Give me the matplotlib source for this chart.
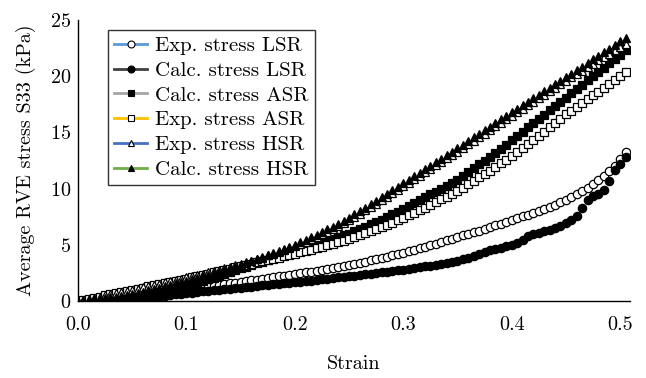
import numpy as np
import matplotlib
matplotlib.use("Agg")
import matplotlib.pyplot as plt
from matplotlib.lines import Line2D

plt.rcParams['font.family'] = ['cmr10', 'DejaVu Serif']
plt.rcParams['axes.formatter.use_mathtext'] = True
plt.rcParams['font.size'] = 14.5

# strain sampling shared by every series (0 .. 0.505)
strain = np.linspace(0, 0.505, 102)

exp_lsr = [0, 0.0, 0.01, 0.02, 0.04, 0.07, 0.1, 0.14, 0.19, 0.24,
           0.3, 0.37, 0.44, 0.51, 0.58, 0.65, 0.72, 0.79, 0.86, 0.93,
           1.0, 1.07, 1.14, 1.21, 1.28, 1.35, 1.42, 1.49, 1.56, 1.63,
           1.7, 1.77, 1.84, 1.91, 1.98, 2.05, 2.12, 2.19, 2.26, 2.33,
           2.4, 2.47, 2.54, 2.62, 2.7, 2.78, 2.86, 2.94, 3.03, 3.11,
           3.2, 3.3, 3.4, 3.51, 3.62, 3.73, 3.84, 3.95, 4.07, 4.19,
           4.3, 4.43, 4.56, 4.69, 4.83, 4.97, 5.11, 5.25, 5.4, 5.55,
           5.7, 5.84, 5.98, 6.12, 6.27, 6.42, 6.57, 6.72, 6.88, 7.04,
           7.2, 7.36, 7.52, 7.68, 7.85, 8.02, 8.2, 8.39, 8.58, 8.79,
           9.0, 9.23, 9.48, 9.75, 10.05, 10.38, 10.74, 11.13, 11.54, 12.0,
           12.6, 13.3]

calc_lsr = [0, 0, 0, 0, 0, 0.01, 0.02, 0.03, 0.05, 0.07,
            0.1, 0.14, 0.19, 0.25, 0.31, 0.38, 0.45, 0.52, 0.58, 0.64,
            0.7, 0.75, 0.8, 0.85, 0.9, 0.95, 1.0, 1.05, 1.1, 1.15,
            1.2, 1.24, 1.29, 1.33, 1.38, 1.42, 1.47, 1.51, 1.56, 1.6,
            1.65, 1.71, 1.77, 1.82, 1.88, 1.94, 1.99, 2.05, 2.1, 2.15,
            2.2, 2.26, 2.31, 2.37, 2.43, 2.49, 2.55, 2.62, 2.68, 2.74,
            2.8, 2.86, 2.95, 3.0, 3.08, 3.15, 3.22, 3.33, 3.42, 3.5,
            3.6, 3.72, 3.85, 4.0, 4.18, 4.35, 4.5, 4.62, 4.75, 4.88,
            5.0, 5.2, 5.45, 5.75, 5.95, 6.05, 6.2, 6.35, 6.5, 6.65,
            6.9, 7.2, 7.6, 8.3, 9.0, 9.3, 9.5, 9.9, 10.7, 11.7,
            12.2, 12.8]

calc_asr = [0, 0.01, 0.02, 0.04, 0.07, 0.1, 0.14, 0.19, 0.24, 0.29,
            0.35, 0.43, 0.51, 0.6, 0.69, 0.79, 0.89, 0.99, 1.09, 1.19,
            1.3, 1.45, 1.61, 1.77, 1.93, 2.09, 2.25, 2.42, 2.58, 2.74,
            2.9, 3.05, 3.2, 3.35, 3.5, 3.65, 3.8, 3.95, 4.1, 4.25,
            4.4, 4.55, 4.7, 4.86, 5.02, 5.18, 5.34, 5.5, 5.67, 5.83,
            6.0, 6.2, 6.4, 6.61, 6.82, 7.03, 7.25, 7.48, 7.71, 7.95,
            8.2, 8.45, 8.7, 8.96, 9.22, 9.48, 9.74, 10.0, 10.27, 10.54,
            10.8, 11.14, 11.48, 11.82, 12.16, 12.5, 12.84, 13.19, 13.55, 13.92,
            14.3, 14.68, 15.06, 15.44, 15.82, 16.2, 16.58, 16.96, 17.34, 17.72,
            18.1, 18.48, 18.86, 19.24, 19.62, 20.0, 20.38, 20.76, 21.14, 21.52,
            21.9, 22.3]

exp_asr = [0, 0.1, 0.2, 0.3, 0.4, 0.5, 0.6, 0.7, 0.8, 0.9,
           1.0, 1.1, 1.2, 1.3, 1.4, 1.5, 1.6, 1.7, 1.8, 1.9,
           2.0, 2.11, 2.22, 2.33, 2.44, 2.55, 2.66, 2.77, 2.88, 2.99,
           3.1, 3.21, 3.32, 3.43, 3.54, 3.65, 3.76, 3.87, 3.98, 4.09,
           4.2, 4.32, 4.44, 4.57, 4.7, 4.83, 4.96, 5.09, 5.22, 5.36,
           5.5, 5.67, 5.84, 6.02, 6.2, 6.38, 6.57, 6.77, 6.97, 7.18,
           7.4, 7.62, 7.85, 8.08, 8.31, 8.55, 8.79, 9.04, 9.29, 9.54,
           9.8, 10.09, 10.39, 10.69, 10.99, 11.29, 11.6, 11.92, 12.24, 12.57,
           12.9, 13.25, 13.61, 13.97, 14.34, 14.71, 15.08, 15.46, 15.84, 16.22,
           16.6, 16.94, 17.28, 17.62, 17.96, 18.3, 18.64, 18.98, 19.32, 19.66,
           20.0, 20.4]

exp_hsr = [0, 0.1, 0.2, 0.3, 0.4, 0.5, 0.6, 0.7, 0.8, 0.9,
           1.0, 1.11, 1.22, 1.33, 1.44, 1.55, 1.66, 1.77, 1.88, 1.99,
           2.1, 2.21, 2.33, 2.44, 2.56, 2.68, 2.8, 2.92, 3.04, 3.17,
           3.3, 3.44, 3.59, 3.74, 3.9, 4.06, 4.22, 4.39, 4.56, 4.73,
           4.9, 5.09, 5.29, 5.5, 5.72, 5.94, 6.17, 6.41, 6.66, 6.93,
           7.2, 7.48, 7.77, 8.06, 8.36, 8.66, 8.96, 9.27, 9.58, 9.89,
           10.2, 10.51, 10.82, 11.13, 11.44, 11.75, 12.06, 12.37, 12.68, 12.99,
           13.3, 13.62, 13.94, 14.26, 14.58, 14.9, 15.22, 15.54, 15.86, 16.18,
           16.5, 16.81, 17.12, 17.43, 17.74, 18.05, 18.36, 18.67, 18.98, 19.29,
           19.6, 19.9, 20.2, 20.5, 20.8, 21.1, 21.4, 21.7, 22.0, 22.3,
           22.6, 22.9]

calc_hsr = [0, 0.05, 0.1, 0.15, 0.2, 0.26, 0.33, 0.4, 0.47, 0.53,
            0.6, 0.71, 0.82, 0.94, 1.06, 1.18, 1.31, 1.44, 1.57, 1.69,
            1.8, 1.93, 2.06, 2.2, 2.34, 2.48, 2.62, 2.76, 2.91, 3.05,
            3.2, 3.36, 3.53, 3.7, 3.87, 4.05, 4.23, 4.42, 4.61, 4.8,
            5.0, 5.21, 5.43, 5.66, 5.89, 6.13, 6.37, 6.62, 6.87, 7.13,
            7.4, 7.7, 8.0, 8.31, 8.62, 8.93, 9.24, 9.56, 9.87, 10.18,
            10.5, 10.81, 11.12, 11.43, 11.74, 12.05, 12.36, 12.67, 12.98, 13.29,
            13.6, 13.92, 14.24, 14.56, 14.88, 15.2, 15.52, 15.84, 16.16, 16.48,
            16.8, 17.11, 17.42, 17.73, 18.04, 18.35, 18.66, 18.97, 19.28, 19.59,
            19.9, 20.22, 20.54, 20.86, 21.18, 21.5, 21.82, 22.14, 22.46, 22.78,
            23.1, 23.4]

labels = ["Exp. stress LSR", "Calc. stress LSR", "Calc. stress ASR",
          "Exp. stress ASR", "Exp. stress HSR", "Calc. stress HSR"]
series = [exp_lsr, calc_lsr, calc_asr, exp_asr, exp_hsr, calc_hsr]
line_colors = ["#5B9BD5", "#404040", "#A5A5A5", "#FFC000", "#4472C4", "#70AD47"]
markers = ["o", "o", "s", "s", "^", "^"]
faces = ["white", "black", "black", "white", "white", "black"]

fig = plt.figure(figsize=(6.46, 3.78), dpi=100)
ax = fig.add_axes([0.1207, 0.2037, 0.8543, 0.7433])

handles = []
for y, lab, lc, m, fc in zip(series, labels, line_colors, markers, faces):
    ax.plot(strain, y, ls='none', marker=m, ms=6, mfc=fc, mec='black', mew=0.9)
    handles.append(Line2D([], [], color=lc, lw=2, marker=m, ms=5,
                          mfc=fc, mec='black', mew=0.8))

ax.set_xlim(0, 0.509)
ax.set_ylim(0, 25)
ax.set_xticks([0.0, 0.1, 0.2, 0.3, 0.4, 0.5])
ax.set_xticklabels(["0.0", "0.1", "0.2", "0.3", "0.4", "0.5"])
ax.set_yticks([0, 5, 10, 15, 20, 25])
ax.tick_params(length=0)
ax.tick_params(axis='x', pad=11)
ax.tick_params(axis='y', pad=5)
for s in ['top', 'right']:
    ax.spines[s].set_visible(False)
for s in ['left', 'bottom']:
    ax.spines[s].set_linewidth(1.0)

ax.set_xlabel("Strain", labelpad=15)
ax.set_ylabel("Average RVE stress S33 (kPa)", labelpad=10)

leg = ax.legend(handles, labels, loc='upper left', bbox_to_anchor=(0.054, 0.964),
                borderaxespad=0, fancybox=False, edgecolor='black',
                handlelength=1.6, handletextpad=0.35, labelspacing=0.3,
                borderpad=0.3, fontsize=15)
leg.get_frame().set_linewidth(1.0)

fig.savefig("out.png", dpi=100)
